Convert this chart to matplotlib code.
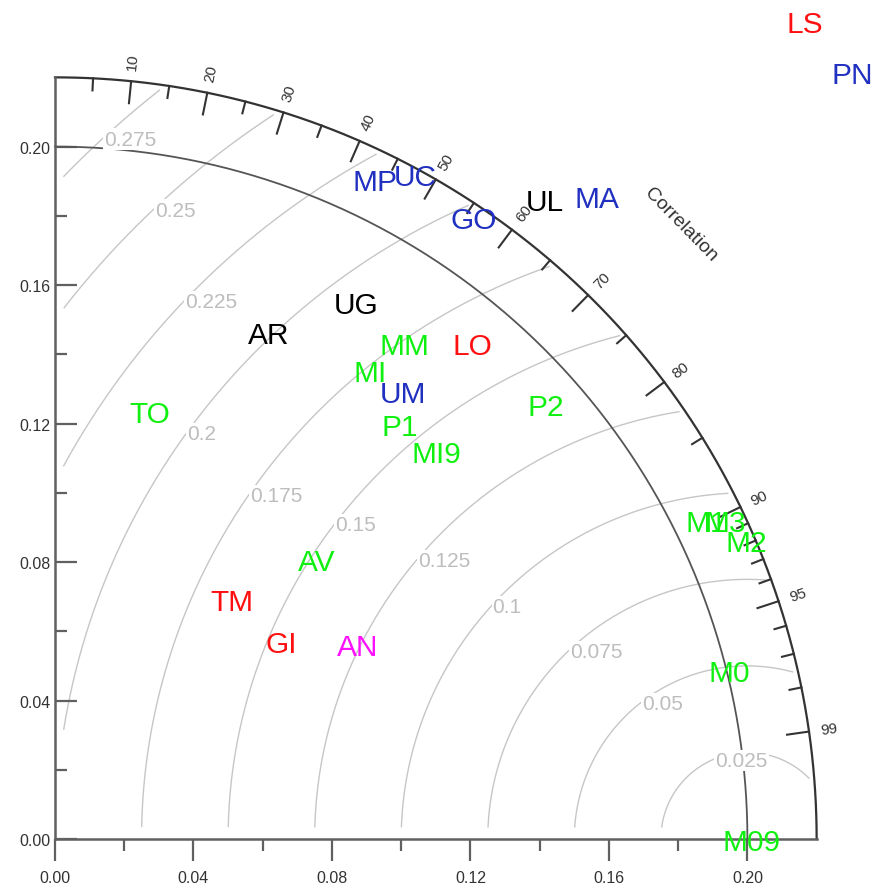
import numpy as np
import matplotlib
matplotlib.use("Agg")
import matplotlib.pyplot as plt

plt.rcParams['font.family'] = ['Liberation Sans', 'DejaVu Sans']

# Model statistics: standard deviation and correlation with the reference
names = ['LS', 'PN', 'MA', 'UL', 'GO', 'MP', 'UC', 'UG', 'AR', 'MM', 'LO',
         'MI', 'UM', 'P1', 'MI9', 'P2', 'TO', 'AV', 'TM', 'GI', 'AN',
         'M1', 'M3', 'M2', 'M0', 'M09']
stddev = [0.3206, 0.3194, 0.2429, 0.2327, 0.2164, 0.2118, 0.2184, 0.1776,
          0.1588, 0.1752, 0.1872, 0.1630, 0.1638, 0.1559, 0.1571, 0.1893,
          0.1266, 0.1108, 0.0861, 0.0867, 0.1041, 0.2094, 0.2143, 0.2174,
          0.2008, 0.2013]
correlation = [0.676, 0.721, 0.645, 0.608, 0.559, 0.436, 0.477, 0.489,
               0.389, 0.577, 0.644, 0.558, 0.614, 0.639, 0.701, 0.749,
               0.217, 0.683, 0.595, 0.753, 0.841, 0.898, 0.903, 0.918,
               0.970, 1.000]
label_colors = ['#ff1010', '#2030c0', '#2030c0', '#000000', '#2030c0',
                '#2030c0', '#2030c0', '#000000', '#000000', '#10f010',
                '#ff1010', '#10f010', '#2030c0', '#10f010', '#10f010',
                '#10f010', '#10f010', '#10f010', '#ff1010', '#ff1010',
                '#ff10ff', '#10f010', '#10f010', '#10f010', '#10f010',
                '#10f010']

ref_std = 0.20
max_std = 0.22
rms_levels = [0.025, 0.05, 0.075, 0.1, 0.125, 0.15, 0.175, 0.2, 0.225,
              0.25, 0.275]
rms_labels = ['0.025', '0.05', '0.075', '0.1', '0.125', '0.15', '0.175',
              '0.2', '0.225', '0.25', '0.275']
rms_label_angle = [111.8, 127.6, 133.0, 137.4, 139.6, 142.5, 145.2, 144.0,
                   136.2, 133.2, 132.5]
corr_major = [0.1, 0.2, 0.3, 0.4, 0.5, 0.6, 0.7, 0.8, 0.9, 0.95, 0.99]
corr_minor = [0.05, 0.15, 0.25, 0.35, 0.45, 0.55, 0.65, 0.75, 0.85,
              0.91, 0.92, 0.93, 0.94, 0.96, 0.97, 0.98]
axis_major = [0.0, 0.04, 0.08, 0.12, 0.16, 0.20]
axis_minor = [0.02, 0.06, 0.10, 0.14, 0.18]

W, H = 888, 887
px_per_unit = 3462.0
x0_px, y0_px = 55, 840

fig = plt.figure(figsize=(W / 100, H / 100), dpi=100)
ax = fig.add_axes([x0_px / W, (H - y0_px) / H,
                   max_std * px_per_unit / W, max_std * px_per_unit / H])
ax.set_xlim(0, max_std)
ax.set_ylim(0, max_std)
ax.set_facecolor('none')
for side in ('top', 'right'):
    ax.spines[side].set_visible(False)
for side in ('left', 'bottom'):
    ax.spines[side].set_color('#606060')
    ax.spines[side].set_linewidth(1.8)

ax.set_xticks(axis_major)
ax.set_xticks(axis_minor, minor=True)
ax.set_yticks(axis_major)
ax.set_yticks(axis_minor, minor=True)
ax.set_xticklabels([f'{v:.2f}' for v in axis_major])
ax.set_yticklabels([f'{v:.2f}' for v in axis_major])
ax.tick_params(axis='x', which='major', direction='out', length=16, width=1.6,
               color='#606060', pad=6.5, labelsize=11.5, labelcolor='#333333')
ax.tick_params(axis='x', which='minor', direction='out', length=8.5, width=1.6,
               color='#606060')
ax.tick_params(axis='y', which='major', direction='in', length=16, width=1.6,
               color='#606060', pad=3.5, labelsize=11.5, labelcolor='#333333')
ax.tick_params(axis='y', which='minor', direction='in', length=8.5, width=1.6,
               color='#606060')

# Centred RMS difference contours around the reference point
t = np.linspace(0, np.pi, 3000)
for R in rms_levels:
    cx = ref_std + R * np.cos(t)
    cy = R * np.sin(t)
    keep = (cx ** 2 + cy ** 2 <= 0.2185 ** 2) & (cx >= 0.0025) & (cy >= 0.0035)
    cx = np.where(keep, cx, np.nan)
    cy = np.where(keep, cy, np.nan)
    ax.plot(cx, cy, color='#c6c6c6', lw=1.0, zorder=1, clip_on=False)

# Reference standard deviation arc and outer boundary
th = np.linspace(0, np.pi / 2, 400)
ax.plot(ref_std * np.cos(th), ref_std * np.sin(th), color='#555555', lw=1.3,
        zorder=2, clip_on=False)
ax.plot(max_std * np.cos(th), max_std * np.sin(th), color='#333333', lw=1.6,
        zorder=2, clip_on=False)

# Correlation ticks and labels on the outer arc
for c in corr_major:
    a = np.arccos(c)
    ax.plot([(max_std - 0.0064) * np.cos(a), max_std * np.cos(a)],
            [(max_std - 0.0064) * np.sin(a), max_std * np.sin(a)],
            color='#333333', lw=1.5, zorder=2, clip_on=False)
    ax.text(0.2235 * np.cos(a), 0.2235 * np.sin(a), f'{int(round(c * 100))}',
            rotation=np.degrees(a), rotation_mode='anchor', ha='left',
            va='center', fontsize=11, color='#333333', clip_on=False)
for c in corr_minor:
    a = np.arccos(c)
    ax.plot([(max_std - 0.0035) * np.cos(a), max_std * np.cos(a)],
            [(max_std - 0.0035) * np.sin(a), max_std * np.sin(a)],
            color='#333333', lw=1.5, zorder=2, clip_on=False)

a_title = np.radians(44.5)
ax.text(0.2535 * np.cos(a_title), 0.2535 * np.sin(a_title), 'Correlation',
        rotation=np.degrees(a_title) - 90, rotation_mode='anchor',
        ha='center', va='center', fontsize=14, color='#333333', clip_on=False)

# Contour value labels
fs_rms = 15
for R, lab, ang in zip(rms_levels, rms_labels, rms_label_angle):
    a = np.radians(ang)
    ax.annotate(lab, (ref_std + R * np.cos(a), R * np.sin(a)),
                xytext=(0, -0.358 * fs_rms), textcoords='offset points',
                ha='left', va='baseline', fontsize=fs_rms, color='#bdbdbd',
                zorder=3, annotation_clip=False,
                bbox=dict(boxstyle='square,pad=0.05', fc='white', ec='none'))

# Model labels placed at (std*cos, std*sin)
fs_lab = 21.5
for name, s, c, col in zip(names, stddev, correlation, label_colors):
    a = np.arccos(min(c, 1.0))
    ax.annotate(name, (s * np.cos(a), s * np.sin(a)),
                xytext=(0, -0.358 * fs_lab), textcoords='offset points',
                ha='center', va='baseline', fontsize=fs_lab, color=col,
                zorder=5, annotation_clip=False)

fig.savefig('out.png', dpi=100, facecolor='white')
